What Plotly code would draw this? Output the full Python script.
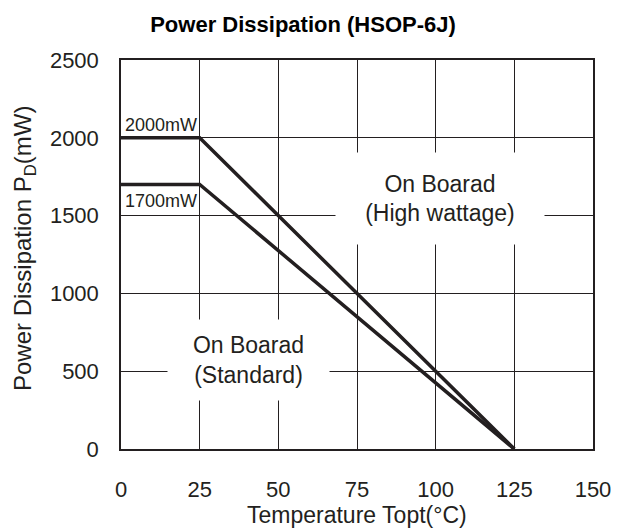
import plotly.graph_objects as go

# Data
temps = [0, 25, 125]
high_wattage = [2000, 2000, 0]
standard = [1700, 1700, 0]
x_ticks = [0, 25, 50, 75, 100, 125, 150]
y_ticks = [0, 500, 1000, 1500, 2000, 2500]

FONT = "Liberation Sans, Arial, sans-serif"
INK = "#231f20"

fig = go.Figure()
fig.add_trace(go.Scatter(x=temps, y=high_wattage, mode="lines",
                         line=dict(color=INK, width=3.5), showlegend=False, hoverinfo="skip"))
fig.add_trace(go.Scatter(x=temps, y=standard, mode="lines",
                         line=dict(color=INK, width=3.5), showlegend=False, hoverinfo="skip"))

W, H = 615, 523
fig.update_layout(
    width=W, height=H,
    margin=dict(l=113, r=20, t=52, b=82),
    paper_bgcolor="white", plot_bgcolor="white",
    font=dict(family=FONT, color=INK, size=22),
    title=dict(text="<b>Power Dissipation (HSOP-6J)</b>", x=295/W, xanchor="center",
               y=1-16/H, yanchor="middle", yref="container", font=dict(size=22, color="black")),
)
fig.update_xaxes(range=[0, 150], tickvals=x_ticks, showgrid=True, gridcolor=INK, gridwidth=1.2,
                 showline=True, linecolor=INK, linewidth=1.5, mirror=True, zeroline=False,
                 ticks="", ticklabelstandoff=20, tickfont=dict(size=22))
fig.update_yaxes(range=[0, 2500], tickvals=y_ticks, showgrid=True, gridcolor=INK, gridwidth=1.2,
                 showline=True, linecolor=INK, linewidth=1.5, mirror=True, zeroline=False,
                 ticks="", ticklabelstandoff=16, tickfont=dict(size=22))

# axis titles
fig.add_annotation(text="Temperature Topt(°C)", xref="paper", yref="paper",
                   x=0.5, y=-(515-449)/389, xanchor="center", yanchor="middle",
                   showarrow=False, font=dict(size=23))
fig.add_annotation(text="Power Dissipation P<sub>D</sub>(mW)", xref="paper", yref="paper",
                   x=-(121-22)/482, y=0.5 - (248-254.5)/389, xanchor="center", yanchor="middle",
                   textangle=-90, showarrow=False, font=dict(size=24))

# value labels
fig.add_annotation(text="2000mW", x=0, y=2000, xref="x", yref="y", xanchor="left", yanchor="bottom",
                   xshift=2, yshift=1, showarrow=False, font=dict(size=18))
fig.add_annotation(text="1700mW", x=0, y=1700, xref="x", yref="y", xanchor="left", yanchor="top",
                   xshift=2, yshift=-5, showarrow=False, font=dict(size=18))

# region labels
fig.add_annotation(text="On Boarad<br>(High wattage)", x=101.4, y=1608, xref="x", yref="y",
                   width=206, height=89, bgcolor="white", showarrow=False, font=dict(size=23))
fig.add_annotation(text="On Boarad<br>(Standard)", x=40.5, y=572, xref="x", yref="y",
                   width=159, height=78, bgcolor="white", showarrow=False, font=dict(size=23))

fig.write_html("out.html", config={"displayModeBar": False})
